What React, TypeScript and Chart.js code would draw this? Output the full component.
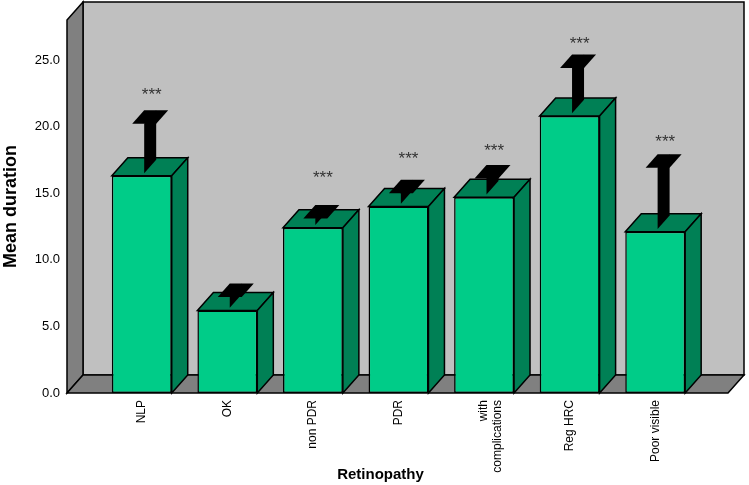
import React, { useEffect, useRef } from 'react';
import { Chart, registerables } from 'chart.js';

Chart.register(...registerables);

// ---- data ----
const categories: (string | string[])[] = ['NLP', 'OK', 'non PDR', 'PDR', ['with', 'complications'], 'Reg HRC', 'Poor visible'];
const meanDuration = [16.3, 6.2, 12.4, 14.0, 14.7, 20.8, 12.1];
const errorUpper = [20.0, 7.0, 12.9, 14.8, 15.9, 24.2, 16.7];
const significance = ['***', '', '***', '***', '***', '***', '***'];
const starLevel = [22.7, 0, 16.5, 17.9, 18.5, 26.6, 19.2];
const yTicks = [0, 5, 10, 15, 20, 25];
const yTitle = 'Mean duration';
const xTitle = 'Retinopathy';

// ---- style ----
const FONT = "'Liberation Sans', Arial, sans-serif";
const DX = 16;
const DY = 18;
const GREEN = '#00CC88';
const DARK_GREEN = '#008055';

function poly(ctx: CanvasRenderingContext2D, pts: number[][], fill: string, stroke = true) {
  ctx.beginPath();
  ctx.moveTo(pts[0][0], pts[0][1]);
  for (let i = 1; i < pts.length; i++) ctx.lineTo(pts[i][0], pts[i][1]);
  ctx.closePath();
  ctx.fillStyle = fill;
  ctx.fill();
  if (stroke) ctx.stroke();
}

const spss3d = {
  id: 'spss3d',
  beforeDatasetsDraw(chart: any) {
    const { ctx, chartArea: a } = chart;
    const L = a.left - 32;
    const R = a.right + 30;
    const T = a.top;
    const B = a.bottom;
    ctx.save();
    ctx.lineWidth = 1.5;
    ctx.strokeStyle = '#000';
    ctx.lineJoin = 'miter';
    poly(ctx, [[L + DX, T - DY], [R + DX, T - DY], [R + DX, B - DY], [L + DX, B - DY]], '#C0C0C0');
    poly(ctx, [[L, T], [L + DX, T - DY], [L + DX, B - DY], [L, B]], '#808080');
    poly(ctx, [[L, B], [L + DX, B - DY], [R + DX, B - DY], [R, B]], '#808080');
    ctx.restore();
  },
  afterDatasetsDraw(chart: any) {
    const { ctx } = chart;
    const yScale = chart.scales.y;
    const meta = chart.getDatasetMeta(0);
    ctx.save();
    ctx.lineWidth = 1.5;
    ctx.strokeStyle = '#000';
    meta.data.forEach((bar: any, i: number) => {
      const { x, y: top, base, width } = bar.getProps(['x', 'y', 'base', 'width'], true);
      const l = x - width / 2;
      const r = x + width / 2;
      poly(ctx, [[l, top], [r, top], [r + DX, top - DY], [l + DX, top - DY]], DARK_GREEN);
      poly(ctx, [[r, top], [r + DX, top - DY], [r + DX, base - DY], [r, base]], DARK_GREEN);
      // 3D error bar
      const ye = yScale.getPixelForValue(errorUpper[i]);
      const f0 = 0.15, f1 = 0.9;
      const ax = x + DX * f0, ay = -DY * f0;
      const bx = x + DX * f1, by = -DY * f1;
      const W = 12;
      poly(ctx, [[ax, ye + ay], [bx, ye + by], [bx, top + by], [ax, top + ay]], '#000', false);
      poly(ctx, [[ax - W, ye + ay], [ax + W, ye + ay], [bx + W, ye + by], [bx - W, ye + by]], '#000', false);
      // significance stars
      if (significance[i]) {
        const ys = yScale.getPixelForValue(starLevel[i]);
        ctx.font = `17px ${FONT}`;
        ctx.fillStyle = '#333';
        ctx.textAlign = 'center';
        ctx.textBaseline = 'alphabetic';
        ctx.fillText(significance[i], x + 10, ys + 17 * 0.58);
      }
    });
    ctx.restore();
  },
  afterDraw(chart: any) {
    const { ctx, chartArea: a } = chart;
    ctx.save();
    ctx.font = `bold 15px ${FONT}`;
    ctx.fillStyle = '#000';
    ctx.textAlign = 'center';
    ctx.textBaseline = 'alphabetic';
    ctx.fillText(xTitle, (a.left + a.right) / 2 - 18, 479);
    ctx.restore();
  },
};

export default function App() {
  const ref = useRef<HTMLCanvasElement | null>(null);
  useEffect(() => {
    if (!ref.current) return;
    const chart = new Chart(ref.current, {
      type: 'bar',
      data: {
        labels: categories as any,
        datasets: [
          {
            data: meanDuration,
            backgroundColor: GREEN,
            borderColor: '#000',
            borderWidth: 1.5,
            borderSkipped: false,
            barPercentage: 0.7,
            categoryPercentage: 1.0,
          },
        ],
      },
      options: {
        responsive: false,
        animation: false,
        devicePixelRatio: 1,
        layout: { padding: { left: 0, right: 51, top: 20, bottom: 0 } },
        plugins: { legend: { display: false }, tooltip: { enabled: false } },
        scales: {
          x: {
            type: 'category',
            grid: { display: false, drawTicks: false },
            border: { display: false },
            ticks: {
              autoSkip: false,
              minRotation: 90,
              maxRotation: 90,
              padding: 7,
              color: '#000',
              font: { family: FONT, size: 12, lineHeight: 1.1 },
            },
            afterFit: (s: any) => {
              s.height = 92;
              s.paddingLeft = 0;
              s.paddingRight = 0;
            },
          },
          y: {
            min: 0,
            max: 28,
            grid: { display: false, drawTicks: false },
            border: { display: false },
            afterBuildTicks: (s: any) => {
              s.ticks = yTicks.map((v) => ({ value: v }));
            },
            ticks: {
              padding: 39,
              color: '#000',
              font: { family: FONT, size: 13 },
              callback: (v: any) => Number(v).toFixed(1),
            },
            title: {
              display: true,
              text: yTitle,
              color: '#000',
              padding: 0,
              font: { family: FONT, size: 18, weight: 'bold' },
            },
            afterFit: (s: any) => {
              s.width = 99;
              s.paddingTop = 0;
              s.paddingBottom = 0;
            },
          },
        },
      },
      plugins: [spss3d],
    });
    return () => chart.destroy();
  }, []);
  return (
    <div style={{ position: 'fixed', left: 0, top: 0, width: 749, height: 485, background: '#fff' }}>
      <canvas ref={ref} width={749} height={485} />
    </div>
  );
}
